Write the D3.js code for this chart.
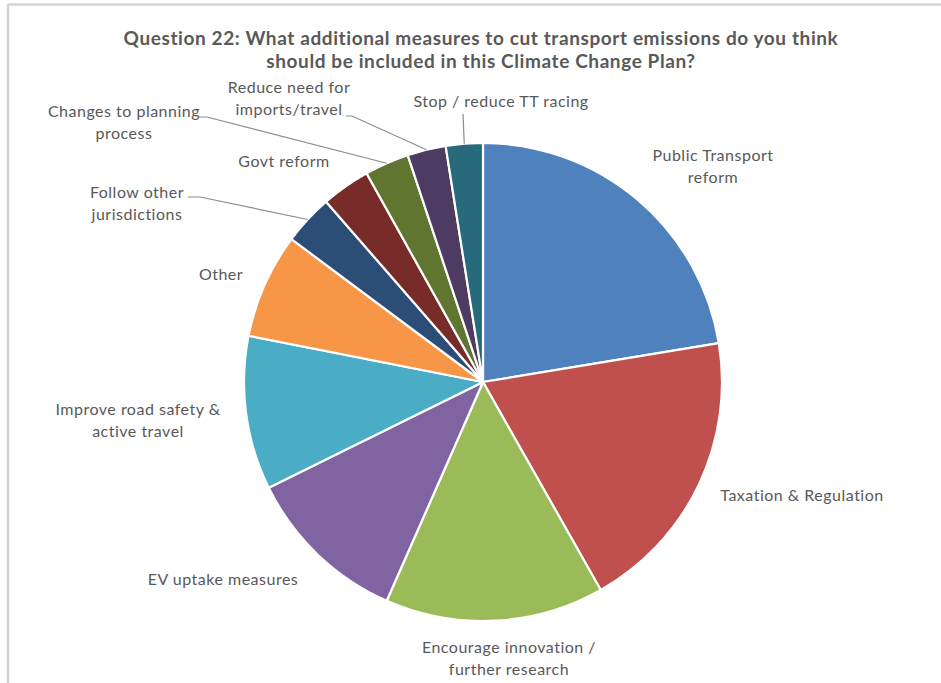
<!DOCTYPE html>
<html>
<head>
<meta charset="utf-8">
<script src="https://cdn.jsdelivr.net/npm/d3@7"></script>
<style>
  html, body { margin: 0; padding: 0; background: #fff; }
  svg { display: block; }
</style>
</head>
<body>
<svg id="chart" width="941" height="683"></svg>
<script>
// Responses by measure (share of all answers, %)
const categories = [
  "Public Transport reform",
  "Taxation & Regulation",
  "Encourage innovation / further research",
  "EV uptake measures",
  "Improve road safety & active travel",
  "Other",
  "Follow other jurisdictions",
  "Govt reform",
  "Changes to planning process",
  "Reduce need for imports/travel",
  "Stop / reduce TT racing"
];
const values = [22.4, 19.4, 14.8, 11.1, 10.4, 7.1, 3.4, 3.3, 3.0, 2.6, 2.5];
const colors = ["#4F81BD", "#C0504D", "#9BBB59", "#8064A2", "#4BACC6", "#F79646",
                "#2C4D75", "#772C2A", "#5F7530", "#4D3B62", "#276A7C"];
const titleLines = [
  "Question 22: What additional measures to cut transport emissions do you think",
  "should be included in this Climate Change Plan?"
];

// Label layout: wrapped lines, anchor point (centre of first baseline), optional leader start
const labelLayout = [
  { lines: ["Public Transport", "reform"], x: 713, y: 161 },
  { lines: ["Taxation & Regulation"], x: 802, y: 501 },
  { lines: ["Encourage innovation /", "further research"], x: 509, y: 653 },
  { lines: ["EV uptake measures"], x: 223, y: 585 },
  { lines: ["Improve road safety &", "active travel"], x: 138, y: 415 },
  { lines: ["Other"], x: 221, y: 280 },
  { lines: ["Follow other", "jurisdictions"], x: 137, y: 198, leader: [188, 197, 200] },
  { lines: ["Govt reform"], x: 284, y: 167 },
  { lines: ["Changes to planning", "process"], x: 124, y: 117, leader: [199, 117, 207] },
  { lines: ["Reduce need for", "imports/travel"], x: 289, y: 93, leader: [346, 116, 352] },
  { lines: ["Stop / reduce TT racing"], x: 501, y: 107, leader: [463, 114, 463] }
];

const W = 941, H = 683;
const cx = 483, cy = 382, R = 239;
const FONT = "Lato, 'Liberation Sans', sans-serif";
const TEXT = "#595959";

const svg = d3.select("#chart");

// chart frame edges
svg.append("line").attr("x1", 8).attr("x2", W).attr("y1", 4.5).attr("y2", 4.5)
  .attr("stroke", "#d4d4d4").attr("stroke-width", 2.5);
svg.append("line").attr("x1", 8).attr("x2", 8).attr("y1", 4).attr("y2", H)
  .attr("stroke", "#d4d4d4").attr("stroke-width", 2.5);

// title
const title = svg.append("text")
  .attr("text-anchor", "middle")
  .attr("font-family", FONT)
  .attr("font-weight", "bold")
  .attr("font-size", 19)
  .attr("letter-spacing", 0.6)
  .attr("fill", TEXT);
titleLines.forEach((t, i) => {
  title.append("tspan").attr("x", 481).attr("y", 45 + i * 23).text(t);
});

// pie
const data = categories.map((c, i) => ({ name: c, value: values[i], color: colors[i], layout: labelLayout[i] }));
const pie = d3.pie().value(d => d.value).sort(null).startAngle(0).endAngle(2 * Math.PI);
const arcs = pie(data);
const arc = d3.arc().innerRadius(0).outerRadius(R);

const g = svg.append("g").attr("transform", `translate(${cx},${cy})`);
g.selectAll("path.slice")
  .data(arcs)
  .join("path")
  .attr("class", "slice")
  .attr("d", arc)
  .attr("fill", d => d.data.color)
  .attr("stroke", "#fff")
  .attr("stroke-width", 2.2)
  .attr("stroke-linejoin", "round");

// leader lines to the outer edge midpoint of small slices
arcs.forEach(a => {
  const L = a.data.layout;
  if (!L.leader) return;
  const mid = (a.startAngle + a.endAngle) / 2;
  const ex = cx + R * Math.sin(mid), ey = cy - R * Math.cos(mid);
  const [sx, sy, kx] = L.leader;
  svg.append("path")
    .attr("d", `M${sx},${sy} L${kx},${sy} L${ex},${ey}`)
    .attr("fill", "none")
    .attr("stroke", "#8c8c8c")
    .attr("stroke-width", 1.2);
});

// category labels
arcs.forEach(a => {
  const L = a.data.layout;
  const t = svg.append("text")
    .attr("text-anchor", "middle")
    .attr("font-family", FONT)
    .attr("font-size", 16)
    .attr("letter-spacing", 0.5)
    .attr("fill", TEXT);
  L.lines.forEach((line, i) => {
    t.append("tspan").attr("x", L.x).attr("y", L.y + i * 21.5).text(line);
  });
});
</script>
</body>
</html>
